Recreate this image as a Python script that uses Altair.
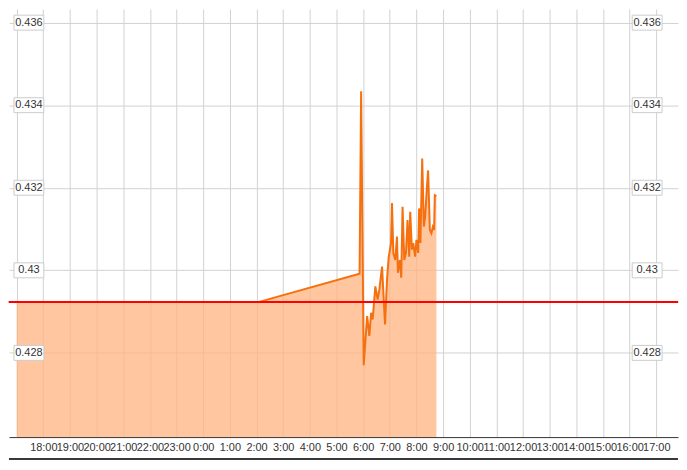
import altair as alt
import pandas as pd

# ---- data ----
TIMES = [
    "2024-01-08T17:00:00", "2024-01-09T02:04:00", "2024-01-09T05:52:00", "2024-01-09T05:55:30",
    "2024-01-09T06:01:18", "2024-01-09T06:09:00", "2024-01-09T06:14:00", "2024-01-09T06:18:00",
    "2024-01-09T06:21:30", "2024-01-09T06:27:30", "2024-01-09T06:32:42", "2024-01-09T06:36:30",
    "2024-01-09T06:42:36", "2024-01-09T06:49:18", "2024-01-09T06:53:48", "2024-01-09T06:57:24",
    "2024-01-09T07:02:48", "2024-01-09T07:05:00", "2024-01-09T07:08:00", "2024-01-09T07:12:24",
    "2024-01-09T07:16:12", "2024-01-09T07:18:24", "2024-01-09T07:22:54", "2024-01-09T07:25:48",
    "2024-01-09T07:28:48", "2024-01-09T07:32:36", "2024-01-09T07:36:24", "2024-01-09T07:40:00",
    "2024-01-09T07:43:48", "2024-01-09T07:46:00", "2024-01-09T07:49:48", "2024-01-09T07:52:42",
    "2024-01-09T07:57:12", "2024-01-09T08:00:00", "2024-01-09T08:04:00", "2024-01-09T08:06:00",
    "2024-01-09T08:09:00", "2024-01-09T08:13:00", "2024-01-09T08:16:42", "2024-01-09T08:19:36",
    "2024-01-09T08:23:24", "2024-01-09T08:26:18", "2024-01-09T08:30:12", "2024-01-09T08:33:42",
    "2024-01-09T08:36:54", "2024-01-09T08:39:48", "2024-01-09T08:41:24", "2024-01-09T08:45:00",
]
PRICES = [
    0.42923, 0.42923, 0.42992, 0.43434,
    0.42770, 0.42889, 0.42841, 0.42897,
    0.42881, 0.42961, 0.42929, 0.42953,
    0.43009, 0.42869, 0.42977, 0.43030,
    0.43066, 0.43163, 0.43042, 0.43025,
    0.43082, 0.42994, 0.43025, 0.42982,
    0.43154, 0.43025, 0.43042, 0.43122,
    0.43033, 0.43142, 0.43050, 0.43066,
    0.43033, 0.43074, 0.43042, 0.43150,
    0.43066, 0.43271, 0.43106, 0.43129,
    0.43198, 0.43242, 0.43098, 0.43090,
    0.43105, 0.43098, 0.43182, 0.43180,
]
BASELINE = 0.42923
Y_TICKS = [0.428, 0.43, 0.432, 0.434, 0.436]
Y_LABELS = ["0.428", "0.43", "0.432", "0.434", "0.436"]
X_TICKS = [
    "2024-01-08T17:00:00", "2024-01-08T18:00:00", "2024-01-08T19:00:00", "2024-01-08T20:00:00",
    "2024-01-08T21:00:00", "2024-01-08T22:00:00", "2024-01-08T23:00:00", "2024-01-09T00:00:00",
    "2024-01-09T01:00:00", "2024-01-09T02:00:00", "2024-01-09T03:00:00", "2024-01-09T04:00:00",
    "2024-01-09T05:00:00", "2024-01-09T06:00:00", "2024-01-09T07:00:00", "2024-01-09T08:00:00",
    "2024-01-09T09:00:00", "2024-01-09T10:00:00", "2024-01-09T11:00:00", "2024-01-09T12:00:00",
    "2024-01-09T13:00:00", "2024-01-09T14:00:00", "2024-01-09T15:00:00", "2024-01-09T16:00:00",
    "2024-01-09T17:00:00",
]
X_DOMAIN = ["2024-01-08T16:42:44", "2024-01-09T17:48:54"]
Y_DOMAIN = [0.42596, 0.43633]

FILL = "#ffb380"
ORANGE = "#f5700f"
FONT = "Liberation Sans"


def ms(s):
    return int(pd.Timestamp(s).value // 10**6)


df = pd.DataFrame({"t": [ms(s) for s in TIMES], "p": PRICES})
ylab = pd.DataFrame({"v": Y_TICKS, "label": Y_LABELS})
xticks = [ms(s) for s in X_TICKS]

xscale = alt.Scale(type="utc", domain=[ms(s) for s in X_DOMAIN], nice=False)
yscale = alt.Scale(domain=Y_DOMAIN, nice=False, zero=False)

xaxis = alt.Axis(
    title=None, values=xticks, tickCount=40, format="%-H:%M", grid=True,
    gridColor="#d2d2d2", ticks=False, domainColor="#333333", domainWidth=1,
    labelColor="#333333", labelFont=FONT, labelFontSize=11, labelPadding=4,
    labelOverlap=False, labelFlush=False, labelBound=False,
    labelExpr=f"time(datum.value) == {xticks[0]} ? '' : datum.label",
)
yaxis = alt.Axis(
    title=None, values=Y_TICKS, grid=True, gridColor="#d2d2d2", labels=False,
    ticks=False, domain=False,
)

area = alt.Chart(df).mark_area(color=FILL, opacity=0.75).encode(
    x=alt.X("t:T", scale=xscale, axis=xaxis),
    y=alt.Y("p:Q", scale=yscale, axis=yaxis),
    y2=alt.datum(Y_DOMAIN[0]),
)
line = alt.Chart(df).mark_line(color=ORANGE, strokeWidth=2).encode(
    x=alt.X("t:T", scale=xscale),
    y=alt.Y("p:Q", scale=yscale),
)
red = alt.Chart(df).mark_rule(color="#ff0000", strokeWidth=2).encode(
    y=alt.datum(BASELINE)
)

box_shape = "M-1,-0.5H1V0.5H-1Z"
boxes_l = alt.Chart(ylab).mark_point(
    shape=box_shape, size=900, filled=True, fill="white", stroke="#cccccc",
    strokeWidth=1, opacity=1,
).encode(x=alt.value(20), y=alt.Y("v:Q", scale=yscale))
boxes_r = alt.Chart(ylab).mark_point(
    shape=box_shape, size=900, filled=True, fill="white", stroke="#cccccc",
    strokeWidth=1, opacity=1,
).encode(x=alt.value(641), y=alt.Y("v:Q", scale=yscale))
text_l = alt.Chart(ylab).mark_text(
    font=FONT, fontSize=11, color="#333333"
).encode(x=alt.value(20), y=alt.Y("v:Q", scale=yscale), text="label:N")
text_r = alt.Chart(ylab).mark_text(
    font=FONT, fontSize=11, color="#333333"
).encode(x=alt.value(641), y=alt.Y("v:Q", scale=yscale), text="label:N")

bottom = alt.Chart(ylab).mark_rule(color="#333333", strokeWidth=1).encode(
    x=alt.value(0), x2=alt.value(672), y=alt.value(452)
)

chart = alt.layer(
    area, line, red, boxes_l, boxes_r, text_l, text_r, bottom
).properties(
    width=672, height=430, padding=0, background="white"
).configure_view(strokeWidth=0)

chart.save("out.html", embed_options={"renderer": "svg", "actions": False})
